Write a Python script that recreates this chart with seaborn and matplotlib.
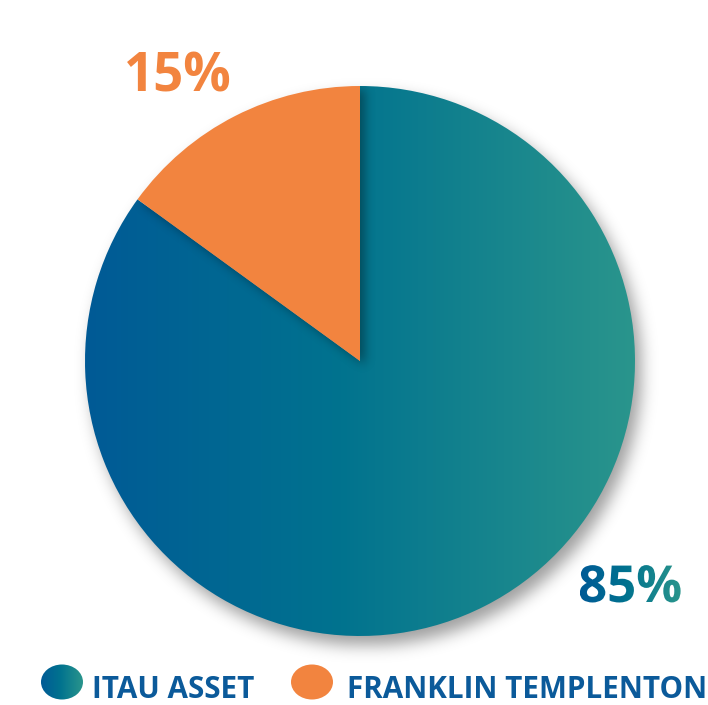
import numpy as np
import matplotlib
matplotlib.use("Agg")
import matplotlib.pyplot as plt
import seaborn as sns
from matplotlib.patches import Ellipse, PathPatch
from matplotlib.textpath import TextPath
from matplotlib.font_manager import FontProperties
from matplotlib.colors import LinearSegmentedColormap

# ---- data ----
categories = ["ITAU ASSET", "FRANKLIN TEMPLENTON"]
shares = [85, 15]
pct_labels = ["85%", "15%"]

sns.set_theme(style="white")
plt.rcParams['font.family'] = ['Open Sans', 'DejaVu Sans']

W, H = 708, 705
fig = plt.figure(figsize=(W / 100, H / 100), dpi=100)
ax = fig.add_axes([0, 0, 1, 1])

ORANGE = "#F2843F"
TEXT_BLUE = "#0B5A9A"
grad = LinearSegmentedColormap.from_list(
    "g", [(0.0, "#005A96"), (0.45, "#00728F"), (1.0, "#2A958C")])

cx_px, cy_px, R = 360, 361, 275
cx, cy = cx_px, H - cy_px


def blur(img, s):
    r = int(3 * s)
    k = np.exp(-0.5 * (np.arange(-r, r + 1) / s) ** 2)
    k /= k.sum()
    img = np.apply_along_axis(lambda m: np.convolve(m, k, mode='same'), 0, img)
    img = np.apply_along_axis(lambda m: np.convolve(m, k, mode='same'), 1, img)
    return img


yy, xx = np.mgrid[0:H, 0:W].astype(float)

# soft drop shadow of the whole pie
disc = (((xx - (cx_px + 6)) ** 2 + (yy - (cy_px + 9)) ** 2) <= R ** 2).astype(float)
sh = blur(disc, 8)
rgba = np.zeros((H, W, 4))
rgba[..., 3] = 0.38 * sh
ax.imshow(rgba, extent=(0, W, 0, H), origin='upper', zorder=0, interpolation='bilinear')

# pie wedges
wedges, _ = ax.pie(shares, startangle=144, counterclock=True, center=(cx, cy), radius=R,
                   colors=['none', ORANGE], wedgeprops=dict(linewidth=0))
wedges[0].set_zorder(1)
wedges[1].set_zorder(4)

gx = np.linspace(0, 1, 512)[None, :]
im = ax.imshow(gx, extent=(cx - R, cx + R, cy - R, cy + R), cmap=grad, aspect='auto',
               zorder=2, interpolation='bilinear')
im.set_clip_path(wedges[0])

# shadow of the orange wedge onto the blue wedge
dxs = xx - cx_px
dys = cy_px - yy
ang = np.degrees(np.arctan2(dys, dxs))
omask = ((ang >= 90) & (ang <= 144) & (dxs ** 2 + dys ** 2 <= R ** 2)).astype(float)
omask = np.roll(np.roll(omask, 4, axis=1), 3, axis=0)
osh = blur(omask, 5)
rgba2 = np.zeros((H, W, 4))
rgba2[..., 3] = 0.35 * osh
im2 = ax.imshow(rgba2, extent=(0, W, 0, H), origin='upper', zorder=3, interpolation='bilinear')
im2.set_clip_path(wedges[0])

ax.set_xlim(0, W)
ax.set_ylim(0, H)
ax.set_aspect('auto')
ax.axis('off')

# percentage labels
ax.text(124, H - 92, pct_labels[1], color=ORANGE, fontsize=38, fontweight='bold',
        ha='left', va='baseline', zorder=5)

fp = FontProperties(family='Open Sans', weight='bold')
tp = TextPath((578, H - 602), pct_labels[0], size=51, prop=fp)
patch = PathPatch(tp, facecolor='none', edgecolor='none')
ax.add_patch(patch)
bb = tp.get_extents()
im3 = ax.imshow(gx, extent=(bb.x0, bb.x1, bb.y0, bb.y1), cmap=grad, aspect='auto',
                zorder=6, interpolation='bilinear')
im3.set_clip_path(patch)

# legend
e1 = Ellipse((62, H - 682), 42, 35, facecolor='none', edgecolor='none')
ax.add_patch(e1)
im4 = ax.imshow(gx, extent=(41, 83, H - 700, H - 664), cmap=grad, aspect='auto',
                zorder=6, interpolation='bilinear')
im4.set_clip_path(e1)
ax.text(92, H - 698, categories[0], color=TEXT_BLUE, fontsize=21.3, fontweight='bold',
        ha='left', va='baseline', zorder=6)

e2 = Ellipse((312, H - 682), 42, 35, facecolor=ORANGE, edgecolor='none', zorder=6)
ax.add_patch(e2)
ax.text(347, H - 698, categories[1], color=TEXT_BLUE, fontsize=21.3, fontweight='bold',
        ha='left', va='baseline', zorder=6)

fig.savefig("out.png", dpi=100)
